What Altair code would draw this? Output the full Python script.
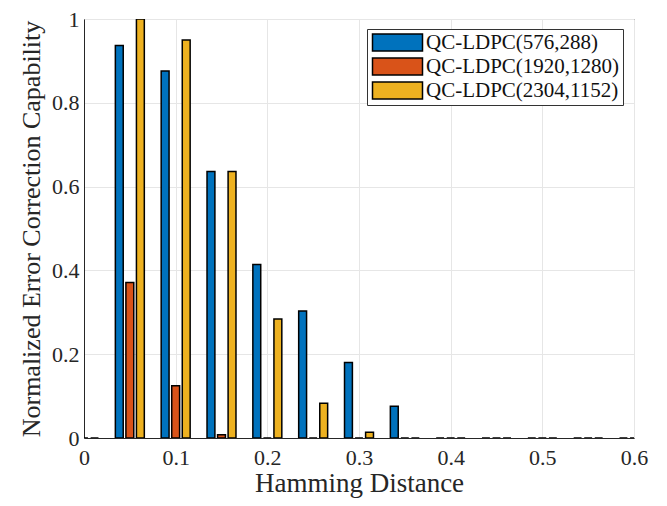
import altair as alt
import pandas as pd

hamming = [0.0, 0.05, 0.10, 0.15, 0.20, 0.25, 0.30, 0.35, 0.40, 0.45, 0.50, 0.55, 0.60]
series = ["QC-LDPC(576,288)", "QC-LDPC(1920,1280)", "QC-LDPC(2304,1152)"]
v576 = [0, 0.937, 0.876, 0.636, 0.414, 0.303, 0.180, 0.076, 0, 0, 0, 0, 0]
v1920 = [0, 0.371, 0.125, 0.008, 0, 0, 0, 0, 0, 0, 0, 0, 0]
v2304 = [0, 1.0, 0.950, 0.636, 0.284, 0.083, 0.014, 0, 0, 0, 0, 0, 0]
colors = ["#0072BD", "#D95319", "#EDB120"]

rows = []
for idx, (name, vals) in enumerate(zip(series, [v576, v1920, v2304])):
    for h, v in zip(hamming, vals):
        rows.append({"hd": h, "series": name, "idx": idx, "value": v})
df = pd.DataFrame(rows)

FONT = "Liberation Serif"
PAD = "\u00a0" * 3

bars = alt.Chart(df).transform_calculate(
    xc="datum.hd + (datum.idx - 1) * 0.0115"
).transform_calculate(
    x0="datum.xc - 0.0043", x1="datum.xc + 0.0043"
).mark_bar(stroke="black", strokeWidth=1.5, clip=True).encode(
    x=alt.X("x0:Q", scale=alt.Scale(domain=[0, 0.6], nice=False, zero=False),
            axis=alt.Axis(values=[0, 0.1, 0.2, 0.3, 0.4, 0.5, 0.6], format="~g",
                          title="Hamming Distance", titleFontSize=27)),
    x2="x1:Q",
    y=alt.Y("value:Q", scale=alt.Scale(domain=[0, 1], nice=False),
            axis=alt.Axis(values=[0, 0.2, 0.4, 0.6, 0.8, 1], format="~g",
                          title="Normalized Error Correction Capability")),
    y2=alt.datum(0),
    color=alt.Color("series:N", scale=alt.Scale(domain=series, range=colors),
                    legend=alt.Legend(orient="none", legendX=283, legendY=10, title=None,
                                      fillColor="white", strokeColor="#333333",
                                      padding=3,
                                      symbolType="M-1.6,-1.7H8.4V1.7H-1.6Z", symbolSize=100,
                                      symbolStrokeColor="black", symbolStrokeWidth=1.5,
                                      symbolOpacity=1,
                                      labelExpr="datum.label + '" + PAD + "'",
                                      labelFont=FONT, labelFontSize=21, labelColor="#111111",
                                      labelLimit=400, labelOffset=35, rowPadding=1)),
    order=alt.Order("idx:Q"),
)

chart = bars.properties(
    width=550, height=419,
    autosize=alt.AutoSizeParams(type="none"),
    padding={"left": 76, "top": 11, "right": 20, "bottom": 60},
).configure_view(
    stroke="#262626", strokeWidth=1
).configure_axis(
    labelFont=FONT, labelFontSize=22, labelColor="#262626", labelFlush=False,
    titleFont=FONT, titleFontSize=26, titleFontWeight="normal", titleColor="#262626",
    domainColor="#262626", domainWidth=1, tickSize=0,
    gridColor="#e6e6e6", gridWidth=1,
).configure_axisY(
    titlePadding=7, labelPadding=5
).configure_axisX(
    titlePadding=2, labelPadding=9
)

chart.save("out.html", embed_options={"renderer": "svg", "actions": False})
